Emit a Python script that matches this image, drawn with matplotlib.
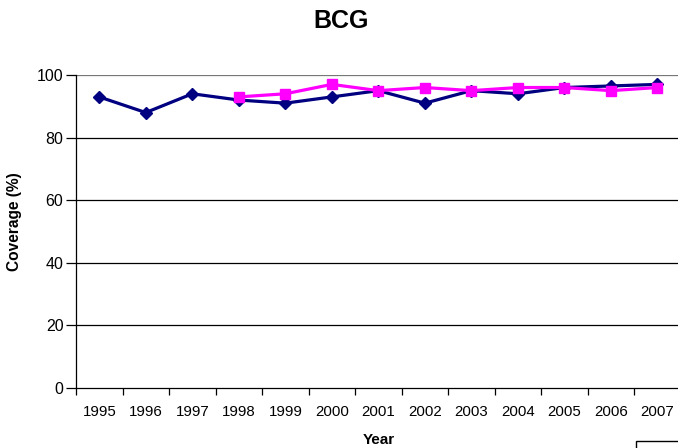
import matplotlib
matplotlib.use("Agg")
import matplotlib.pyplot as plt
from matplotlib.patches import Rectangle
import numpy as np

years = ["1995", "1996", "1997", "1998", "1999", "2000", "2001",
         "2002", "2003", "2004", "2005", "2006", "2007"]
series_a = [93, 88, 94, 92, 91, 93, 95, 91, 95, 94, 96, 96.5, 97]
series_b_years = ["1998", "1999", "2000", "2001", "2002", "2003",
                  "2004", "2005", "2006", "2007"]
series_b = [93, 94, 97, 95, 96, 95, 96, 96, 95, 96]
yticks = [0, 20, 40, 60, 80, 100]

plt.rcParams['font.family'] = ['Liberation Sans', 'DejaVu Sans']

fig = plt.figure(figsize=(6.78, 4.48), dpi=100)
ax = fig.add_axes([76/678, 60/448, 1 - 76/678 + 0.004, 313/448])

xa = np.arange(len(years))
xb = np.array([years.index(y) for y in series_b_years])

ax.plot(xa, series_a, color="#000080", lw=2.3, marker="D", markersize=6,
        zorder=3)
ax.plot(xb, series_b, color="#FF00FF", lw=2.3, marker="s", markersize=7.5,
        zorder=4)

ax.set_xlim(-0.5, len(years) - 0.5)
ax.set_ylim(0, 100)
ax.set_yticks(yticks)
ax.set_yticklabels([str(v) for v in yticks], fontsize=11.5)
for v in yticks[1:]:
    ax.axhline(v, color="#000000" if v < 100 else "#777777", lw=0.9, zorder=1)

ax.set_xticks(xa)
ax.set_xticklabels(years, fontsize=10.8)
ax.set_xticks(np.arange(-0.5, len(years)), minor=True)
ax.tick_params(axis="x", which="major", length=0, pad=12)
ax.tick_params(axis="x", which="minor", length=5, width=0.9, direction="out")
ax.tick_params(axis="y", length=7, width=0.9, direction="out", pad=2)

for s in ["top", "right"]:
    ax.spines[s].set_visible(False)
ax.spines["left"].set_linewidth(0.9)
ax.spines["bottom"].set_linewidth(0.9)

ax.set_ylabel("Coverage (%)", fontsize=11.2, fontweight="bold")
ax.yaxis.set_label_coords(-(76 - 15) / 604, (388 - 222) / 313)
ax.set_xlabel("Year", fontsize=11, fontweight="bold")
ax.xaxis.set_label_coords(0.5, -(440 - 388) / 313)
ax.xaxis.label.set_va("center")
ax.yaxis.label.set_va("center")
fig.text(341/678, 1 - 21/448, "BCG", fontsize=18, fontweight="bold",
         ha="center", va="center")

fig.patches.append(Rectangle((636/678, -0.05), 0.2, 0.05 + 7/448,
                             transform=fig.transFigure, facecolor="white",
                             edgecolor="black", lw=1.0))

fig.savefig("out.png", dpi=100)
